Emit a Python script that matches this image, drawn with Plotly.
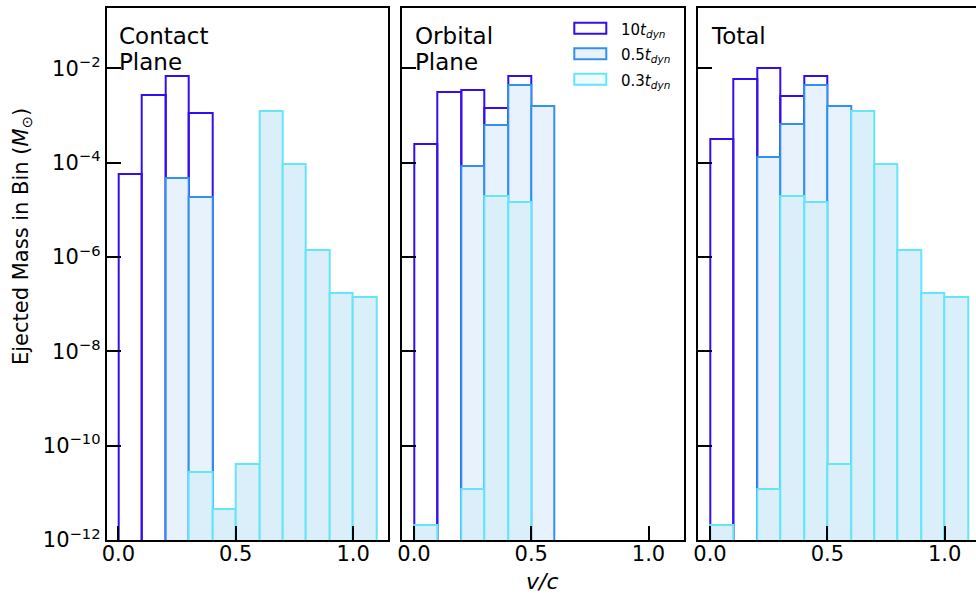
import plotly.graph_objects as go

# ---------------- data ----------------
v_bins = [0.05, 0.15, 0.25, 0.35, 0.45, 0.55, 0.65, 0.75, 0.85, 0.95, 1.05]
bin_width = 0.1

series_names = ["10<i>t</i><sub><i>dyn</i></sub>", "0.5<i>t</i><sub><i>dyn</i></sub>", "0.3<i>t</i><sub><i>dyn</i></sub>"]

contact_10 = [5.9e-5, 2.75e-3, 6.9e-3, 1.15e-3, None, None, None, None, None, None, None]
contact_05 = [None, None, 4.7e-5, 1.9e-5, None, None, None, None, None, None, None]
contact_03 = [None, None, None, 2.75e-11, 4.6e-12, 4.1e-11, 1.26e-3, 9.3e-5, 1.41e-6, 1.7e-7, 1.45e-7]

orbital_10 = [2.5e-4, 3.2e-3, 3.5e-3, 1.45e-3, 7.1e-3, None, None, None, None, None, None]
orbital_05 = [None, None, 8.7e-5, 6.2e-4, 4.4e-3, 1.6e-3, None, None, None, None, None]
orbital_03 = [2.1e-12, None, 1.2e-11, 2.0e-5, 1.45e-5, None, None, None, None, None, None]

total_10 = [3.2e-4, 6.0e-3, 1.05e-2, 2.6e-3, 7.1e-3, None, None, None, None, None, None]
total_05 = [None, None, 1.35e-4, 6.6e-4, 4.4e-3, 1.6e-3, None, None, None, None, None]
total_03 = [2.1e-12, None, 1.2e-11, 2.0e-5, 1.45e-5, 4.1e-11, 1.26e-3, 9.3e-5, 1.41e-6, 1.7e-7, 1.45e-7]

panel_titles = [["Contact", "Plane"], ["Orbital", "Plane"], ["Total"]]
ytick_vals = [1e-12, 1e-10, 1e-8, 1e-6, 1e-4, 1e-2]
ytick_text = ["10<sup>\u221212</sup>", "10<sup>\u221210</sup>", "10<sup>\u22128</sup>",
              "10<sup>\u22126</sup>", "10<sup>\u22124</sup>", "10<sup>\u22122</sup>"]
xtick_vals = [0.0, 0.5, 1.0]
xtick_text = ["0.0", "0.5", "1.0"]

# ---------------- style ----------------
edge_colors = ["#3010f0", "#3490ee", "#66e4f8"]
fill_colors = ["rgba(0,0,0,0)", "#e8f2fc", "#daeffa"]
legend_fill = ["#ffffff", "#e8f2fc", "#effcfe"]
FONT = "DejaVu Sans"
W, H = 976, 594

def px(p):
    return p / W

def py(p):
    return 1 - p / H

fig = go.Figure()

panels = [
    ("x", "y", [contact_10, contact_05, contact_03]),
    ("x2", "y2", [orbital_10, orbital_05, orbital_03]),
    ("x3", "y3", [total_10, total_05, total_03]),
]

for xa, ya, data in panels:
    for i, vals in enumerate(data):
        fig.add_trace(go.Bar(
            x=v_bins, y=vals, width=bin_width,
            xaxis=xa, yaxis=ya,
            marker=dict(color=fill_colors[i], line=dict(color=edge_colors[i], width=2)),
            name=series_names[i], showlegend=False,
        ))

top_px, bot_px = 8, 540
ydom = [py(bot_px), py(top_px)]
xdoms = [[px(106.7), px(388.3)], [px(402.3), px(683.7)], [px(698.3), 1.0]]
scale = (388.3 - 106.7) / 1.2
xranges = [[-0.05, 1.15], [-0.05, 1.15], [-0.05, -0.05 + (W - 698.3) / scale]]

layout = dict(
    width=W, height=H,
    margin=dict(l=0, r=0, t=0, b=0),
    paper_bgcolor="white", plot_bgcolor="white",
    barmode="overlay", bargap=0,
    font=dict(family=FONT, size=21, color="black"),
    showlegend=False,
)

for k in range(3):
    sx = "" if k == 0 else str(k + 1)
    layout["xaxis" + sx] = dict(
        domain=xdoms[k], range=xranges[k], anchor="y" + sx,
        showline=True, linecolor="black", linewidth=2, mirror=True,
        ticks="inside", ticklen=14, tickwidth=2, tickcolor="black",
        tickvals=xtick_vals, ticktext=xtick_text, showgrid=False, zeroline=False,
        automargin=False, tickfont=dict(size=21), ticklabelstandoff=-6,
    )
    layout["yaxis" + sx] = dict(
        domain=ydom, type="log", range=[-12, -0.717], anchor="x" + sx,
        showline=True, linecolor="black", linewidth=2, mirror=(k < 2),
        ticks="inside", ticklen=14, tickwidth=2, tickcolor="black",
        tickvals=ytick_vals, ticktext=ytick_text, showticklabels=(k == 0),
        showgrid=False, zeroline=False, automargin=False, tickfont=dict(size=21),
    )

fig.update_layout(**layout)

annotations = []
title_x = [117, 413, 709]
for k, lines in enumerate(panel_titles):
    for j, t in enumerate(lines):
        annotations.append(dict(
            text=t, x=px(title_x[k]), y=py(21 + 26 * j), xref="paper", yref="paper",
            xanchor="left", yanchor="top", align="left", showarrow=False,
            font=dict(family=FONT, size=23, color="black"),
        ))

# axis titles
annotations.append(dict(
    text="Ejected Mass in Bin (<i>M</i><sub>\u2299</sub>)", x=px(22), y=py(237),
    xref="paper", yref="paper", textangle=-90, showarrow=False,
    xanchor="center", yanchor="middle", font=dict(family=FONT, size=21, color="black"),
))
annotations.append(dict(
    text="<i>v/c</i>", x=px(542), y=py(581), xref="paper", yref="paper",
    showarrow=False, xanchor="center", yanchor="middle",
    font=dict(family=FONT, size=22, color="black"),
))

# legend (patches + labels) inside middle panel
shapes = []
row_centers = [28.3, 53.8, 79.2]
for i in range(3):
    c = row_centers[i]
    shapes.append(dict(
        type="rect", xref="paper", yref="paper",
        x0=px(574.3), x1=px(606.3), y0=py(c + 5.5), y1=py(c - 5.5),
        line=dict(color=edge_colors[i], width=2), fillcolor=legend_fill[i],
    ))
    annotations.append(dict(
        text=series_names[i], x=px(619), y=py(c + 2), xref="paper", yref="paper",
        xanchor="left", yanchor="middle", showarrow=False,
        font=dict(family=FONT, size=15, color="black"),
    ))

fig.update_layout(annotations=annotations, shapes=shapes)

fig.write_html("out.html")
